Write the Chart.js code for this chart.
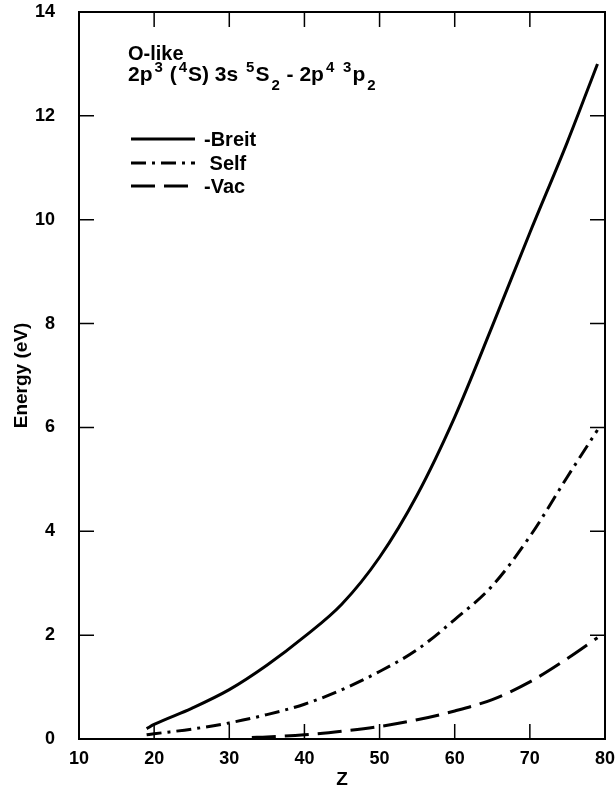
<!DOCTYPE html>
<html>
<head>
<meta charset="utf-8">
<script src="https://cdn.jsdelivr.net/npm/chart.js@4"></script>
<style>
  html, body { margin: 0; padding: 0; background: #fff; }
  #wrap { width: 616px; height: 801px; }
</style>
</head>
<body>
<div id="wrap"><canvas id="chart" width="616" height="801"></canvas></div>
<script>
// values
const zValues = [19, 20, 25, 30, 35, 40, 45, 50, 55, 60, 65, 70, 75, 79];
const breitEnergy = [0.2, 0.28, 0.59, 0.95, 1.42, 1.97, 2.6, 3.5, 4.7, 6.2, 7.95, 9.75, 11.5, 13.0];
const selfEnergy = [0.08, 0.1, 0.19, 0.31, 0.47, 0.67, 0.95, 1.3, 1.72, 2.3, 2.95, 3.9, 5.05, 5.95];
const vacZ = [33, 35, 40, 45, 50, 55, 60, 65, 70, 75, 79];
const vacEnergy = [0.03, 0.04, 0.08, 0.15, 0.24, 0.37, 0.54, 0.76, 1.1, 1.55, 1.95];

const xTicks = [10, 20, 30, 40, 50, 60, 70, 80];
const yTicks = [0, 2, 4, 6, 8, 10, 12, 14];

const FONT = "'Liberation Sans', Arial, sans-serif";

function pairs(xs, ys) {
    return xs.map((x, i) => ({ x: x, y: ys[i] }));
}

function noOverflow(scale) {
    scale.paddingTop = 0;
    scale.paddingBottom = 0;
    scale.paddingLeft = 0;
    scale.paddingRight = 0;
}

// frame, inward ticks, label block and legend
const decorations = {
    id: 'decorations',
    afterDatasetsDraw(chart) {
        const ctx = chart.ctx;
        const area = chart.chartArea;
        const xs = chart.scales.x;
        const ys = chart.scales.y;
        const tick = 15;

        ctx.save();
        ctx.strokeStyle = '#000';
        ctx.lineWidth = 1.5;
        ctx.beginPath();
        xTicks.slice(1, -1).forEach(v => {
            const px = xs.getPixelForValue(v);
            ctx.moveTo(px, area.bottom);
            ctx.lineTo(px, area.bottom - tick);
            ctx.moveTo(px, area.top);
            ctx.lineTo(px, area.top + tick);
        });
        yTicks.slice(1, -1).forEach(v => {
            const py = ys.getPixelForValue(v);
            ctx.moveTo(area.left, py);
            ctx.lineTo(area.left + tick, py);
            ctx.moveTo(area.right, py);
            ctx.lineTo(area.right - tick, py);
        });
        ctx.stroke();

        ctx.lineWidth = 2;
        ctx.strokeRect(area.left, area.top, area.right - area.left, area.bottom - area.top);
        ctx.restore();
    },
    afterDraw(chart) {
        const ctx = chart.ctx;
        ctx.save();
        ctx.fillStyle = '#000';
        ctx.textBaseline = 'alphabetic';
        ctx.textAlign = 'left';

        ctx.font = 'bold 20px ' + FONT;
        ctx.fillText('O-like', 128, 60);

        // 2p3 (4S) 3s 5S2 - 2p4 3p2
        const parts = [
            ['2p', 0], ['3', 1], [' (', 0], ['4', 1], ['S) 3s ', 0], ['5', 1], ['S', 0], ['2', -1],
            [' - 2p', 0], ['4', 1], [' ', 0], ['3', 1], ['p', 0], ['2', -1]
        ];
        let x = 128;
        const base = 81;
        parts.forEach(([t, kind]) => {
            if (kind === 0) {
                ctx.font = 'bold 21px ' + FONT;
                ctx.fillText(t, x, base);
                x += ctx.measureText(t).width;
            } else {
                ctx.font = 'bold 15px ' + FONT;
                ctx.fillText(t, x + 2, kind > 0 ? base - 9 : base + 9);
                x += ctx.measureText(t).width + 3;
            }
        });

        // legend
        const rows = [139, 163, 186];
        ctx.font = 'bold 20px ' + FONT;
        chart.data.datasets.forEach((ds, i) => {
            const y = rows[i];
            ctx.lineWidth = 3;
            ctx.strokeStyle = '#000';
            ctx.setLineDash(ds.borderDash || []);
            ctx.beginPath();
            ctx.moveTo(131, y);
            ctx.lineTo(195, y);
            ctx.stroke();
            ctx.setLineDash([]);
            ctx.fillText(ds.label, 204, y + 7);
        });
        ctx.restore();
    }
};

function init() {
    const ctx = document.getElementById('chart').getContext('2d');
    Chart.defaults.font.family = FONT;
    Chart.defaults.color = '#000';

    new Chart(ctx, {
        type: 'line',
        data: {
            datasets: [{
                label: '-Breit',
                data: pairs(zValues, breitEnergy),
                borderColor: '#000',
                borderWidth: 3,
                pointRadius: 0,
                cubicInterpolationMode: 'monotone',
                borderDash: []
            }, {
                label: ' Self',
                data: pairs(zValues, selfEnergy),
                borderColor: '#000',
                borderWidth: 3,
                pointRadius: 0,
                cubicInterpolationMode: 'monotone',
                borderDash: [15, 6, 3, 6]
            }, {
                label: '-Vac',
                data: pairs(vacZ, vacEnergy),
                borderColor: '#000',
                borderWidth: 3,
                pointRadius: 0,
                cubicInterpolationMode: 'monotone',
                borderDash: [24, 9]
            }]
        },
        options: {
            responsive: false,
            animation: false,
            layout: { padding: { top: 12, right: 11, left: 0, bottom: 0 } },
            plugins: {
                legend: { display: false },
                tooltip: { enabled: false }
            },
            scales: {
                x: {
                    type: 'linear',
                    min: 10,
                    max: 80,
                    afterBuildTicks: scale => { scale.ticks = xTicks.map(v => ({ value: v })); },
                    afterFit: scale => { scale.height = 62; noOverflow(scale); },
                    grid: { display: false, drawTicks: false },
                    border: { display: false },
                    ticks: {
                        padding: 9,
                        maxRotation: 0,
                        font: { size: 18, weight: 'bold' },
                        callback: v => String(v)
                    },
                    title: {
                        display: true,
                        text: 'Z',
                        font: { size: 19, weight: 'bold' },
                        padding: { top: 0, bottom: 10 }
                    }
                },
                y: {
                    type: 'linear',
                    min: 0,
                    max: 14,
                    afterBuildTicks: scale => { scale.ticks = yTicks.map(v => ({ value: v })); },
                    afterFit: scale => { scale.width = 79; noOverflow(scale); },
                    grid: { display: false, drawTicks: false },
                    border: { display: false },
                    ticks: {
                        padding: 24,
                        font: { size: 18, weight: 'bold' },
                        callback: v => String(v)
                    },
                    title: {
                        display: true,
                        text: 'Energy (eV)',
                        font: { size: 19, weight: 'bold' },
                        padding: { top: 10, bottom: 0 }
                    }
                }
            }
        },
        plugins: [decorations]
    });
}

document.addEventListener('DOMContentLoaded', init);
</script>
</body>
</html>
